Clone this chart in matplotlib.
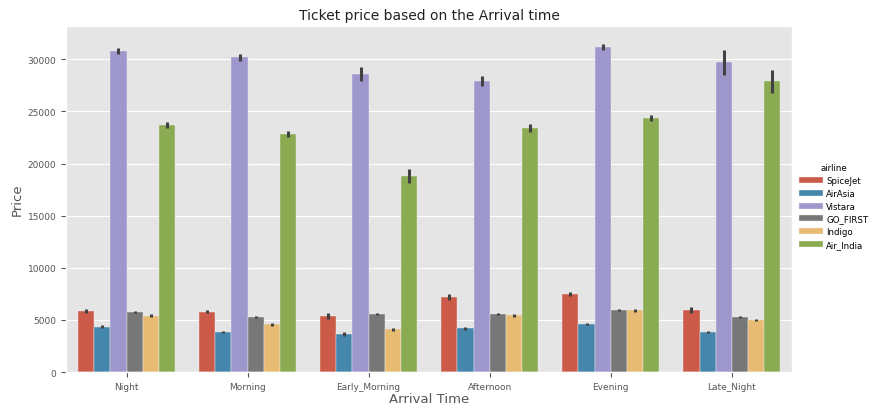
import numpy as np
import seaborn as sns
from matplotlib import pyplot as plt

plt.style.use('ggplot')

arrival_times = ['Night', 'Morning', 'Early_Morning', 'Afternoon', 'Evening', 'Late_Night']
airlines = ['SpiceJet', 'AirAsia', 'Vistara', 'GO_FIRST', 'Indigo', 'Air_India']

# средние цены по авиакомпаниям (порядок как в arrival_times)
spicejet = [5900, 5800, 5400, 7200, 7500, 5950]
airasia = [4350, 3850, 3650, 4200, 4600, 3850]
vistara = [30800, 30200, 28600, 27900, 31200, 29700]
go_first = [5800, 5300, 5550, 5550, 6000, 5300]
indigo = [5400, 4600, 4100, 5450, 5950, 5000]
air_india = [23700, 22800, 18800, 23400, 24400, 27900]

# полуширина доверительных интервалов
spicejet_ci = [200, 150, 280, 300, 200, 300]
airasia_ci = [120, 110, 160, 130, 130, 100]
vistara_ci = [300, 350, 700, 450, 300, 1200]
go_first_ci = [100, 100, 120, 100, 100, 100]
indigo_ci = [150, 150, 160, 130, 150, 120]
air_india_ci = [300, 300, 650, 400, 300, 1100]

values = [spicejet, airasia, vistara, go_first, indigo, air_india]
errors = [spicejet_ci, airasia_ci, vistara_ci, go_first_ci, indigo_ci, air_india_ci]
palette = ['#E24A33', '#348ABD', '#988ED5', '#777777', '#FBC15E', '#8EBA42']

fig = plt.figure(figsize=(8.73, 4.06), dpi=100)
ax = fig.add_axes([0.0756, 0.081, 0.832, 0.852])

x = np.arange(len(arrival_times))
width = 0.8 / len(airlines)
handles = []
for i, (name, vals, errs, col) in enumerate(zip(airlines, values, errors, palette)):
    pos = x - 0.4 + width * (i + 0.5)
    bars = ax.bar(pos, vals, width=width, color=sns.desaturate(col, 0.75),
                  edgecolor='#EEEEEE', linewidth=0.3, label=name)
    handles.append(bars)
    for p, v, e in zip(pos, vals, errs):
        ax.plot([p, p], [v - e, v + e], color='#424242', linewidth=2.2, solid_capstyle='butt')

ax.set_xlim(-0.5, len(arrival_times) - 0.5)
ax.set_ylim(0, 33170)
ax.set_xticks(x)
ax.set_xticklabels(arrival_times)
ax.set_yticks(np.arange(0, 30001, 5000))
ax.tick_params(axis='both', labelsize=6.5, colors='#555555', length=3.5)
ax.grid(axis='x', visible=False)
ax.set_xlabel('Arrival Time', fontsize=9.5, color='#555555', labelpad=1)
ax.set_ylabel('Price', fontsize=9.5, color='#555555', labelpad=3)
ax.set_title('Ticket price based on the Arrival time', fontsize=10, color='#222222', pad=5)

leg = fig.legend(handles=handles, labels=airlines, title='airline', loc='center left',
                 bbox_to_anchor=(0.906, 0.49), frameon=False, fontsize=6.2,
                 title_fontsize=6.2, handlelength=2.8, labelspacing=0.45, handletextpad=0.4)

plt.savefig('out.png', dpi=100)
